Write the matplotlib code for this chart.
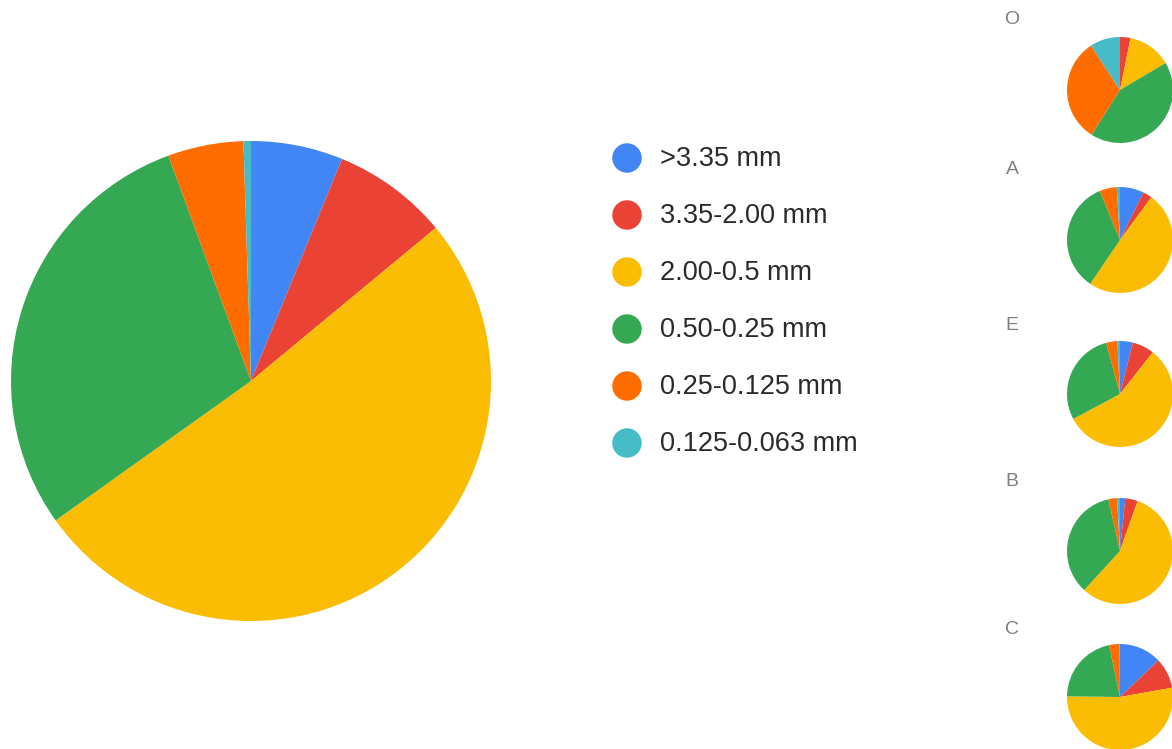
import matplotlib.pyplot as plt

W, H = 1172, 749

labels = [">3.35 mm", "3.35-2.00 mm", "2.00-0.5 mm",
          "0.50-0.25 mm", "0.25-0.125 mm", "0.125-0.063 mm"]
colors = ['#4285F4', '#EA4335', '#FBBC04', '#34A853', '#FF6D01', '#46BDC6']

# overall fractions (%)
total = [6.2, 7.8, 51.2, 29.3, 5.1, 0.5]

# per-horizon fractions (%)
horizons = ['O', 'A', 'E', 'B', 'C']
h_O = [0.0, 3.2, 13.3, 42.5, 31.8, 9.2]
h_A = [7.3, 2.8, 49.4, 34.3, 5.2, 1.0]
h_E = [3.9, 6.7, 56.6, 28.6, 3.4, 0.8]
h_B = [1.6, 3.8, 56.4, 34.7, 2.6, 0.9]
h_C = [12.9, 9.3, 53.0, 21.5, 3.2, 0.1]
horizon_values = [h_O, h_A, h_E, h_B, h_C]


def pie_axes(fig, cx, cy, r):
    # cx, cy, r in pixels (y from top)
    ax = fig.add_axes([(cx - r) / W, (H - cy - r) / H, 2 * r / W, 2 * r / H])
    return ax


def draw_pie(ax, vals):
    ax.pie(vals, colors=colors, startangle=90, counterclock=False,
           radius=1, frame=True)
    ax.set_xlim(-1, 1)
    ax.set_ylim(-1, 1)
    ax.set_axis_off()


fig = plt.figure(figsize=(W / 100, H / 100), dpi=100)
fig.patch.set_facecolor('white')

draw_pie(pie_axes(fig, 251, 381, 240), total)

# legend
lax = fig.add_axes([0, 0, 1, 1])
lax.set_xlim(0, W)
lax.set_ylim(H, 0)
lax.set_axis_off()
for i, (lab, c) in enumerate(zip(labels, colors)):
    y = 158 + i * 57
    lax.scatter(627, y, s=450, color=c, edgecolors='none')
    lax.text(660, y + 1, lab, fontsize=19.5, color='#2a2a2a', va='center',
             ha='left', family='Liberation Sans')

# small pies
label_y = [20, 170, 325, 481, 630]
pie_y = [90, 240, 394, 551, 697]
for name, vals, ly, py in zip(horizons, horizon_values, label_y, pie_y):
    lax.text(1012, ly, name, fontsize=14, color='#808080', va='center',
             ha='center', family='Liberation Sans')
    draw_pie(pie_axes(fig, 1120, py, 53), vals)

fig.savefig('out.png', dpi=100)
